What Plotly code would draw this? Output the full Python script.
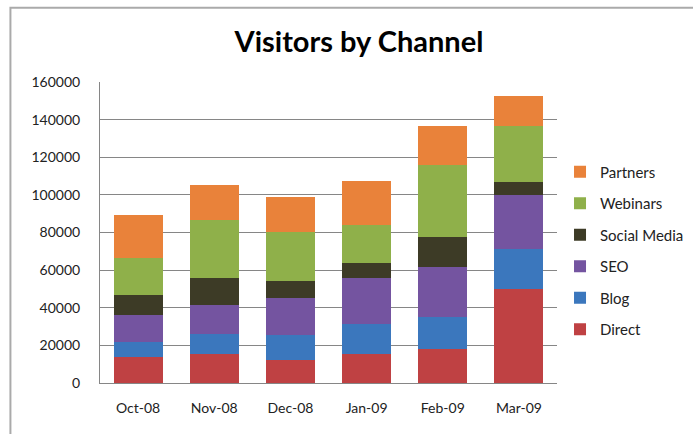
import plotly.graph_objects as go

months = ["Oct-08", "Nov-08", "Dec-08", "Jan-09", "Feb-09", "Mar-09"]
direct = [14000, 15500, 12000, 15500, 18000, 50000]
blog = [8000, 10300, 13600, 15800, 17000, 21000]
seo = [14300, 15800, 19800, 24300, 26500, 29200]
social = [10600, 14300, 9000, 8000, 16100, 6700]
webinars = [19300, 30500, 25700, 20200, 38100, 29800]
partners = [23000, 19000, 18800, 23600, 21100, 16100]

series = [
    ("Direct", direct, "#BF4143"),
    ("Blog", blog, "#3B77BD"),
    ("SEO", seo, "#7454A0"),
    ("Social Media", social, "#3D3B26"),
    ("Webinars", webinars, "#8FB04A"),
    ("Partners", partners, "#E9823A"),
]
y_ticks = [0, 20000, 40000, 60000, 80000, 100000, 120000, 140000, 160000]

fig = go.Figure()
for i, (name, vals, col) in enumerate(series):
    fig.add_trace(go.Bar(x=months, y=vals, name=name, marker=dict(color=col, line=dict(width=0)),
                         legendgroup=name, legendrank=100 - i))

fig.update_layout(
    barmode="stack",
    bargap=0.355,
    width=693, height=434,
    margin=dict(l=100, r=136, t=82, b=51, autoexpand=False),
    paper_bgcolor="white", plot_bgcolor="white",
    font=dict(family="Lato, 'Open Sans', sans-serif", size=13, color="#222"),
    title=dict(text="<b>Visitors by Channel</b>", x=0.518, xanchor="center", y=0.903, yanchor="middle",
               font=dict(size=29, color="#000", family="Lato, sans-serif")),
    legend=dict(traceorder="grouped", x=1.0066, xanchor="left", y=0.44, yanchor="middle",
                tracegroupgap=9, font=dict(size=15, color="#222"), itemwidth=30),
    xaxis=dict(showline=True, linecolor="#868686", linewidth=1, ticks="", tickfont=dict(size=14),
               ticklabelstandoff=12),
    yaxis=dict(range=[0, 160000], tickvals=y_ticks, ticktext=[str(v) for v in y_ticks],
               showgrid=True, gridcolor="#868686", gridwidth=1, showline=True, linecolor="#868686",
               linewidth=1, zeroline=False, ticks="", ticklabelstandoff=16, tickfont=dict(size=14)),
    shapes=[dict(type="rect", xref="paper", yref="paper", x0=-0.196, x1=1.45, y0=-0.25, y1=1.247,
                 line=dict(color="#AAAAAA", width=2), fillcolor="rgba(0,0,0,0)")],
)

fig.write_html("out.html", config={"displayModeBar": False},
               post_script="document.body.style.margin='0';")
